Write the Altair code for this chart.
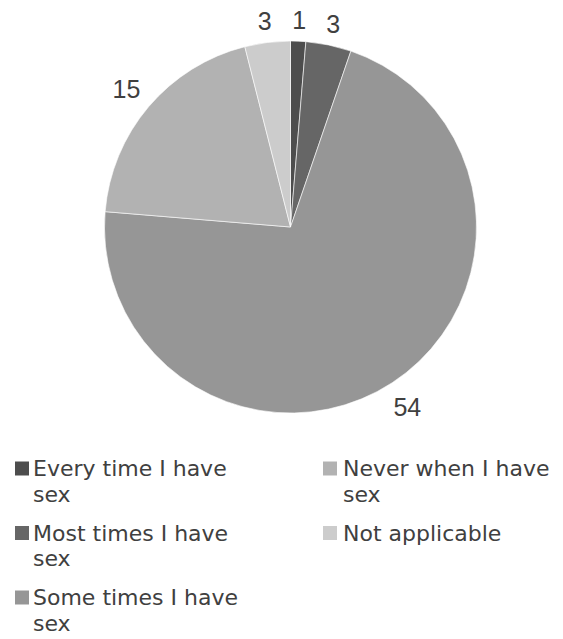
import altair as alt
import pandas as pd
import numpy as np
import textwrap

categories = ["Every time I have sex", "Most times I have sex", "Some times I have sex",
              "Never when I have sex", "Not applicable"]
values = [1, 3, 54, 15, 3]
colors = ["#4d4d4d", "#666666", "#969696", "#b2b2b2", "#cccccc"]

W, H = 547, 623
CX, CY, R = 282.5, 219, 186
LABEL_FS = 25
GAP = 12.5

tot = float(sum(values))
pie_df = pd.DataFrame({"cat": categories, "value": values, "order": range(len(values))})
pie_df["mid"] = np.cumsum([0] + values[:-1]) + np.array(values) / 2

# label radius: outside-end placement, label box kept a fixed gap from the rim
ang = pie_df["mid"].to_numpy() / tot * 2 * np.pi
hw = np.array([len(str(v)) for v in values]) * 0.556 * LABEL_FS / 2
hh = 0.716 * LABEL_FS / 2
pie_df["lr"] = R + GAP + np.abs(np.sin(ang)) * hw + np.abs(np.cos(ang)) * hh

color_scale = alt.Scale(domain=categories, range=colors)
theta_scale = alt.Scale(domain=[0, tot])

arcs = alt.Chart(pie_df).mark_arc(outerRadius=R, stroke="#ffffff", strokeWidth=0.6).encode(
    theta=alt.Theta("value:Q", stack=True, scale=theta_scale),
    order=alt.Order("order:Q", sort="ascending"),
    color=alt.Color("cat:N", scale=color_scale, legend=None),
    x=alt.value(CX), y=alt.value(CY),
)

label_layers = []
for c, lr in zip(categories, pie_df["lr"]):
    label_layers.append(
        alt.Chart(pie_df).transform_filter(alt.datum.cat == c).mark_text(
            radius=float(lr), fontSize=LABEL_FS, font="Liberation Sans", dy=2,
            color="#404040",
        ).encode(
            theta=alt.Theta("mid:Q", stack=None, scale=theta_scale),
            text="value:Q", x=alt.value(CX), y=alt.value(CY),
        )
    )

# legend table (column-major, 3 rows per column)
rows_per_col = 3
leg = []
for i, c in enumerate(categories):
    col, row = divmod(i, rows_per_col)
    leg.append({
        "cat": c,
        "txt": "\n".join(textwrap.wrap(c, 18)),
        "sx": 14 + col * 308, "tx": 25 + col * 310,
        "ty": 468 + row * 64.5, "sy": 460.5 + row * 64.5,
    })
leg_df = pd.DataFrame(leg)

leg_sq = alt.Chart(leg_df).mark_square(size=196, opacity=1).encode(
    x=alt.X("sx:Q", scale=None), y=alt.Y("sy:Q", scale=None),
    color=alt.Color("cat:N", scale=color_scale, legend=None),
)
leg_txt = alt.Chart(leg_df).mark_text(
    align="left", baseline="alphabetic", fontSize=22, font="DejaVu Sans",
    color="#404040", lineBreak="\n", lineHeight=25.5,
).encode(x=alt.X("tx:Q", scale=None), y=alt.Y("ty:Q", scale=None), text="txt:N")

chart = alt.layer(arcs, *label_layers, leg_sq, leg_txt).properties(
    width=W, height=H, autosize=alt.AutoSizeParams(type="none"), padding=0
).configure_view(stroke=None)

chart.save("out.html", embed_options={"renderer": "svg", "actions": False})
